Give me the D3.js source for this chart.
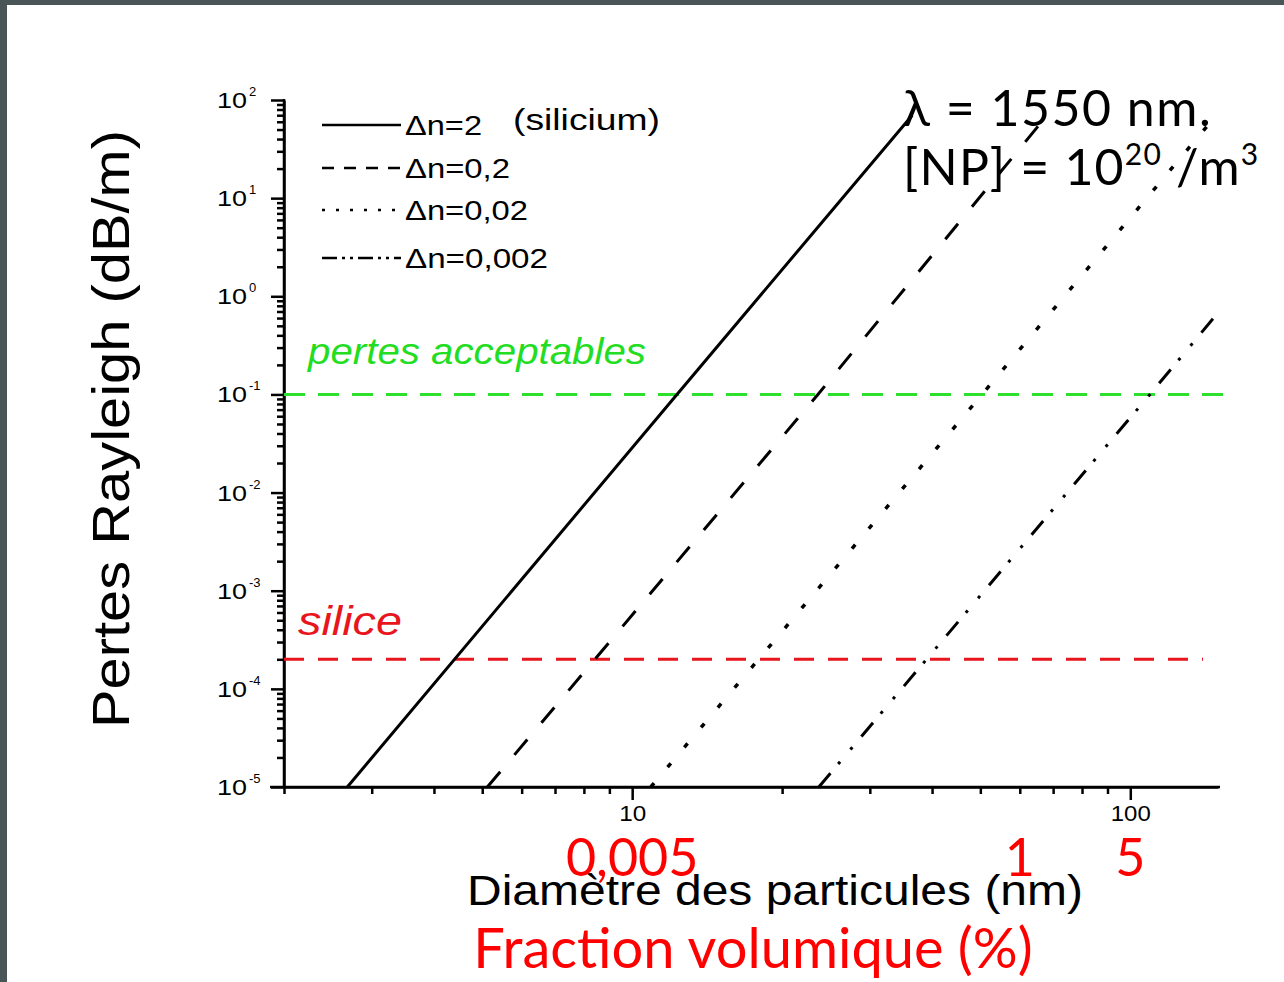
<!DOCTYPE html>
<html>
<head>
  <meta charset="utf-8">
  <title>Pertes Rayleigh</title>
  <script src="https://d3js.org/d3.v7.min.js"></script>
  <style>
    body { margin: 0; background: #fff; }
    .arial { font-family: "Liberation Sans", Arial, sans-serif; }
    .calibri { font-family: Lato, "Open Sans", sans-serif; }
    .axis path, .axis line { stroke: #000; stroke-width: 2.5px; }
  </style>
</head>
<body>
  <svg width="1284" height="982"></svg>
  <script>
    // diametre (nm) / pertes (dB/m) for each curve
    const seriesNames = ["\u0394n=2", "\u0394n=0,2", "\u0394n=0,02", "\u0394n=0,002"];
    const diam2 = [2.68, 12.3, 36.5];
    const loss2 = [1e-5, 0.1, 70];
    const diam02 = [5.12, 23.6, 68.7];
    const loss02 = [1e-5, 0.1, 74];
    const diam002 = [10.9, 50.4, 150];
    const loss002 = [1e-5, 0.1, 73.5];
    const diam0002 = [23.7, 109.5, 150];
    const loss0002 = [1e-5, 0.1, 0.68];

    const acceptableLoss = 0.1;
    const silicaLoss = 2e-4;

    const xMajor = [10, 100];
    const xMinor = [2, 3, 4, 5, 6, 7, 8, 9, 20, 30, 40, 50, 60, 70, 80, 90];
    const yExponents = [2, 1, 0, -1, -2, -3, -4, -5];
    const fractionLabels = [
      { d: 10, text: "0,005" },
      { d: 60, text: "1" },
      { d: 100, text: "5" }
    ];

    const svg = d3.select("svg");

    // window frame
    svg.append("rect").attr("x", 0).attr("y", 0).attr("width", 1284).attr("height", 5).attr("fill", "#4a5557");
    svg.append("rect").attr("x", 0).attr("y", 0).attr("width", 7).attr("height", 982).attr("fill", "#4a5557");

    const x = d3.scaleLog().domain([2, 150]).range([284, 1218]);
    const y = d3.scaleLog().domain([1e-5, 1e2]).range([787, 100]);

    // minor ticks y
    const yMinor = [];
    yExponents.slice(1).forEach(e => {
      for (let k = 2; k <= 9; k++) yMinor.push(k * Math.pow(10, e));
    });

    svg.append("g").attr("class", "axis").attr("transform", "translate(284,0)")
      .call(d3.axisLeft(y).tickValues(yMinor).tickSize(7).tickSizeOuter(0).tickFormat(""));
    const yAx = svg.append("g").attr("class", "axis").attr("transform", "translate(284,0)")
      .call(d3.axisLeft(y).tickValues(yExponents.map(e => Math.pow(10, e))).tickSize(13).tickSizeOuter(0).tickFormat(""));
    yAx.select(".domain").attr("d", `M0,${y(1e2) - 1}V${y(1e-5)}`);

    yExponents.forEach(e => {
      svg.append("text").attr("class", "arial")
        .attr("x", 217).attr("y", y(Math.pow(10, e)) + 8)
        .attr("font-size", 22).attr("textLength", 30).attr("lengthAdjust", "spacingAndGlyphs")
        .text("10");
      svg.append("text").attr("class", "arial")
        .attr("x", 249).attr("y", y(Math.pow(10, e)) - 4)
        .attr("font-size", 13).text(e);
    });

    svg.append("g").attr("class", "axis").attr("transform", "translate(0,787)")
      .call(d3.axisBottom(x).tickValues(xMinor).tickSize(7).tickSizeOuter(0).tickFormat(""));
    const xAx = svg.append("g").attr("class", "axis").attr("transform", "translate(0,787)")
      .call(d3.axisBottom(x).tickValues(xMajor).tickSize(13).tickSizeOuter(0).tickFormat(d3.format("d")));
    xAx.select(".domain").attr("d", `M270,0H${x(150) + 2}`);
    xAx.selectAll("text").attr("class", "arial").attr("font-size", 22).attr("dy", 18).attr("fill", "#000")
      .attr("textLength", d => d === 10 ? 27 : 40).attr("lengthAdjust", "spacingAndGlyphs");

    // reference lines
    svg.append("line")
      .attr("x1", x(2)).attr("x2", x(150) + 6)
      .attr("y1", y(acceptableLoss)).attr("y2", y(acceptableLoss))
      .attr("stroke", "#2ee02e").attr("stroke-width", 3).attr("stroke-dasharray", "21,13");
    svg.append("line")
      .attr("x1", x(2)).attr("x2", 1203)
      .attr("y1", y(silicaLoss)).attr("y2", y(silicaLoss))
      .attr("stroke", "#e8161c").attr("stroke-width", 3).attr("stroke-dasharray", "20,14");

    const series = [
      { name: seriesNames[0], d: diam2, l: loss2, dash: null, legendDash: null, w: 77 },
      { name: seriesNames[1], d: diam02, l: loss02, dash: "20,22", legendDash: "12,10", w: 105 },
      { name: seriesNames[2], d: diam002, l: loss002, dash: "5,21", legendDash: "3,11", w: 123 },
      { name: seriesNames[3], d: diam0002, l: loss0002, dash: "18,12,3,16,3,14", legendDash: "15,5,3,5,3,5", w: 143 }
    ];

    const line = d3.line().x(p => x(p[0])).y(p => y(p[1]));

    svg.append("g").selectAll("path").data(series).join("path")
      .attr("d", s => line(s.d.map((v, i) => [v, s.l[i]])))
      .attr("fill", "none").attr("stroke", "#000")
      .attr("stroke-width", (s, i) => i === 2 ? 3.5 : 3)
      .attr("stroke-dasharray", s => s.dash);

    // legend
    const legendY = [125, 168, 210, 258];
    const lg = svg.append("g").selectAll("g").data(series).join("g")
      .attr("transform", (s, i) => `translate(0,${legendY[i]})`);
    lg.append("line").attr("x1", 322).attr("x2", 401).attr("y1", 0).attr("y2", 0)
      .attr("stroke", "#000").attr("stroke-width", 2.5)
      .attr("stroke-dasharray", s => s.legendDash);
    lg.append("text").attr("class", "arial").attr("x", 405).attr("y", 10)
      .attr("font-size", 28).attr("textLength", s => s.w).attr("lengthAdjust", "spacingAndGlyphs")
      .text(s => s.name);
    svg.append("text").attr("class", "arial").attr("x", 513).attr("y", 130)
      .attr("font-size", 30).attr("textLength", 147).attr("lengthAdjust", "spacingAndGlyphs")
      .text("(silicium)");

    // annotations
    svg.append("text").attr("class", "arial").attr("x", 308).attr("y", 364)
      .attr("font-size", 37).attr("font-style", "italic").attr("fill", "#22dd22")
      .attr("textLength", 338).attr("lengthAdjust", "spacingAndGlyphs")
      .text("pertes acceptables");
    svg.append("text").attr("class", "arial").attr("x", 298).attr("y", 635)
      .attr("font-size", 41).attr("font-style", "italic").attr("fill", "#e8161c")
      .attr("textLength", 104).attr("lengthAdjust", "spacingAndGlyphs")
      .text("silice");

    svg.append("text").attr("class", "calibri").attr("x", 903).attr("y", 126)
      .attr("font-size", 50).attr("letter-spacing", 1.5).attr("fill", "#000").text("\u03bb = 1550 nm.");
    const np = svg.append("text").attr("class", "calibri").attr("x", 903).attr("y", 185)
      .attr("font-size", 50).attr("letter-spacing", 1.2).attr("fill", "#000");
    np.append("tspan").text("[NP] = 10");
    np.append("tspan").attr("font-size", 30).attr("dy", -20).text("20");
    np.append("tspan").attr("dy", 20).text(" /m");
    np.append("tspan").attr("font-size", 30).attr("dy", -20).text("3");

    // axis titles
    svg.append("text").attr("class", "arial")
      .attr("transform", "translate(129,429) rotate(-90)")
      .attr("text-anchor", "middle").attr("font-size", 52)
      .attr("textLength", 598).attr("lengthAdjust", "spacingAndGlyphs")
      .text("Pertes Rayleigh (dB/m)");
    svg.append("text").attr("class", "arial").attr("x", 775).attr("y", 905)
      .attr("text-anchor", "middle").attr("font-size", 43)
      .attr("textLength", 616).attr("lengthAdjust", "spacingAndGlyphs")
      .text("Diam\u00e8tre des particules (nm)");

    svg.append("g").selectAll("text").data(fractionLabels).join("text")
      .attr("class", "calibri").attr("x", f => x(f.d)).attr("y", 876)
      .attr("text-anchor", "middle").attr("font-size", 52).attr("fill", "#ff0000")
      .text(f => f.text);
    svg.append("text").attr("class", "calibri").attr("x", 753).attr("y", 968)
      .attr("text-anchor", "middle").attr("font-size", 56).attr("fill", "#ff0000")
      .text("Fraction volumique (%)");
  </script>
</body>
</html>
